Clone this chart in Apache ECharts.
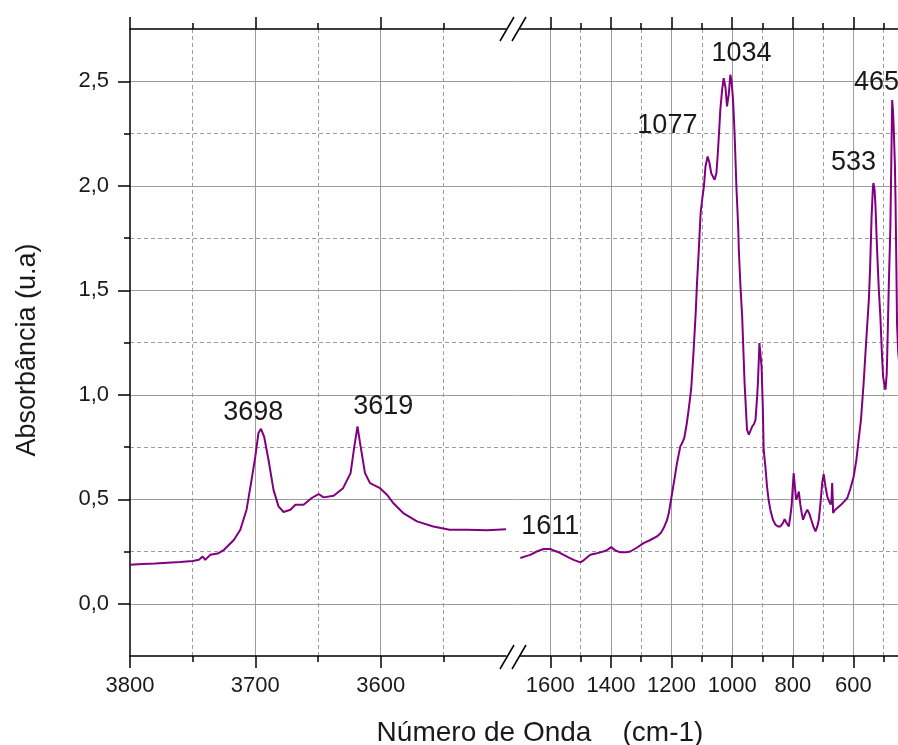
<!DOCTYPE html>
<html>
<head>
<meta charset="utf-8">
<script src="https://cdn.jsdelivr.net/npm/echarts@6/dist/echarts.min.js"></script>
<style>
html, body { margin: 0; padding: 0; background: #fff; }
#main { width: 898px; height: 745px; }
</style>
</head>
<body>
<div id="main"></div>
<script>
// high wavenumber part (left of the break)
var highWavenumber = [3800, 3790, 3780, 3770, 3760, 3750, 3745, 3742, 3740, 3736, 3730, 3725, 3717, 3712, 3707, 3703, 3700, 3697.5, 3695.5, 3693, 3689.5, 3685.5, 3681.5, 3677.5, 3672, 3668, 3661.5, 3655, 3649.5, 3645.5, 3637.5, 3630, 3624, 3621, 3618.5, 3616, 3612.5, 3608.5, 3600.5, 3595, 3590, 3582, 3571, 3558, 3545, 3531, 3515, 3500];
var highAbsorbance = [0.187, 0.19, 0.192, 0.196, 0.2, 0.205, 0.21, 0.226, 0.21, 0.234, 0.24, 0.258, 0.306, 0.354, 0.45, 0.593, 0.705, 0.817, 0.837, 0.8, 0.689, 0.545, 0.466, 0.439, 0.45, 0.474, 0.474, 0.506, 0.525, 0.509, 0.517, 0.553, 0.625, 0.753, 0.848, 0.753, 0.625, 0.577, 0.553, 0.522, 0.482, 0.434, 0.394, 0.37, 0.354, 0.354, 0.352, 0.357];

// low wavenumber part (right of the break)
var lowWavenumber = [1699, 1680, 1666, 1645, 1622, 1600, 1589, 1570, 1556, 1540, 1523, 1510, 1501, 1490, 1468, 1450, 1435, 1415, 1399, 1385, 1369, 1350, 1336, 1315, 1292, 1270, 1248, 1235, 1226, 1215, 1209, 1198, 1190, 1182, 1171, 1165, 1158, 1150, 1143, 1135, 1127, 1120, 1116, 1110, 1104, 1099, 1093, 1088, 1081, 1075, 1069, 1058, 1052, 1048, 1043, 1039, 1033, 1028, 1022, 1017, 1011, 1006, 1002, 997, 992, 986, 980, 978, 973, 967, 959, 951, 945, 939, 934, 928, 923, 918, 915, 912, 910, 907, 903, 899, 896, 890, 885, 880, 874, 865, 857, 849, 841, 833, 827, 820, 813, 808, 804, 800, 797, 793, 789, 785, 780, 775, 770, 766, 759, 752, 745, 739, 732, 725, 719, 714, 708, 703, 698, 692, 686, 680, 675, 672, 670, 668, 667, 660, 653, 640, 630, 620, 610, 599, 590, 583, 575, 566, 558, 549, 545, 540, 536, 534, 530, 527, 522, 516, 511, 506, 502, 497, 494, 490, 488, 483, 478, 475, 472, 469, 467, 463, 461, 458, 456, 452, 445, 430, 400];
var lowAbsorbance = [0.219, 0.228, 0.234, 0.25, 0.262, 0.262, 0.255, 0.245, 0.234, 0.222, 0.21, 0.203, 0.198, 0.208, 0.234, 0.24, 0.246, 0.255, 0.271, 0.255, 0.246, 0.246, 0.25, 0.268, 0.29, 0.305, 0.322, 0.34, 0.362, 0.4, 0.434, 0.53, 0.6, 0.673, 0.753, 0.769, 0.793, 0.86, 0.935, 1.03, 1.215, 1.4, 1.534, 1.694, 1.87, 1.933, 2.0, 2.092, 2.14, 2.11, 2.06, 2.029, 2.06, 2.14, 2.26, 2.364, 2.46, 2.515, 2.47, 2.38, 2.44, 2.531, 2.5, 2.41, 2.25, 1.997, 1.8, 1.694, 1.53, 1.375, 1.056, 0.833, 0.809, 0.83, 0.848, 0.86, 0.88, 0.98, 1.056, 1.17, 1.247, 1.2, 1.135, 0.95, 0.737, 0.65, 0.561, 0.5, 0.45, 0.4, 0.378, 0.37, 0.37, 0.385, 0.405, 0.385, 0.37, 0.42, 0.466, 0.56, 0.625, 0.56, 0.498, 0.51, 0.537, 0.474, 0.43, 0.402, 0.43, 0.45, 0.43, 0.402, 0.37, 0.346, 0.37, 0.402, 0.49, 0.577, 0.62, 0.56, 0.513, 0.49, 0.474, 0.5, 0.577, 0.5, 0.434, 0.45, 0.458, 0.475, 0.49, 0.506, 0.55, 0.609, 0.69, 0.78, 0.88, 1.06, 1.25, 1.454, 1.6, 1.85, 1.98, 2.013, 1.98, 1.9, 1.7, 1.5, 1.375, 1.2, 1.088, 1.04, 1.024, 1.1, 1.215, 1.534, 1.8, 2.1, 2.41, 2.35, 2.28, 2.1, 1.933, 1.6, 1.34, 1.2, 1.1, 0.95, 0.8];

var yTicks = [0, 0.5, 1, 1.5, 2, 2.5];
var highTicks = [3800, 3700, 3600];
var lowTicks = [1600, 1400, 1200, 1000, 800, 600, 400];
var lowLabels = [1600, 1400, 1200, 1000, 800, 600];

// peak notes: text, wavenumber, absorbance of the text centre
var highNotes = [['3698', 3701.6, 0.914], ['3619', 3598, 0.943]];
var lowNotes = [['1611', 1600, 0.368], ['1077', 1213.7, 2.287], ['1034', 969.4, 2.632], ['533', 599.6, 2.11], ['465', 523.7, 2.493]];

var font = '"Liberation Sans", Arial, sans-serif';
var purple = '#800080';
var gridColor = '#9c9c9c';
var axisStyle = { color: '#000', width: 1.5 };

function zip(xs, ys) {
    return xs.map(function (x, i) { return [x, ys[i]]; });
}

function notes(list) {
    return {
        symbol: 'circle',
        symbolSize: 1,
        itemStyle: { color: 'rgba(0,0,0,0)' },
        label: { show: true, position: 'inside', formatter: '{b}', fontSize: 27, color: '#1a1a1a', fontFamily: font },
        data: list.map(function (p) { return { name: p[0], coord: [p[1], p[2]] }; })
    };
}

function xAxisOf(grid, pos, min, max, interval, ticks, labels, edgeLine) {
    var bottom = pos === 'bottom';
    var split = { show: bottom, lineStyle: { color: gridColor, width: 1 } };
    split[edgeLine] = false;
    return {
        type: 'value',
        gridIndex: grid,
        position: pos,
        inverse: true,
        min: min,
        max: max,
        interval: interval,
        axisLine: { onZero: false, lineStyle: axisStyle },
        axisTick: { length: 12, customValues: ticks, lineStyle: axisStyle },
        minorTick: { show: true, splitNumber: 2, length: 6, lineStyle: axisStyle },
        axisLabel: {
            show: bottom,
            customValues: labels,
            margin: 19,
            fontSize: 22,
            color: '#1a1a1a',
            fontFamily: font,
            formatter: function (v) { return String(v); }
        },
        splitLine: split,
        minorSplitLine: { show: bottom, lineStyle: { color: gridColor, width: 1, type: [4, 3] } }
    };
}

var dom = document.getElementById('main');
var myChart = echarts.init(dom);

var option = {
    animation: false,
    backgroundColor: '#fff',
    grid: [
        { left: 130, top: 29, width: 376, height: 627, outerBoundsMode: 'none' },
        { left: 520, top: 29, width: 394, height: 627, outerBoundsMode: 'none' },
        { left: 130, top: 29, width: 784, height: 627, outerBoundsMode: 'none' }
    ],
    xAxis: [
        xAxisOf(0, 'bottom', 3500, 3800, 100, highTicks, highTicks, 'showMinLine'),
        xAxisOf(0, 'top', 3500, 3800, 100, highTicks, highTicks, 'showMinLine'),
        xAxisOf(1, 'bottom', 400, 1700, 200, lowTicks, lowLabels, 'showMaxLine'),
        xAxisOf(1, 'top', 400, 1700, 200, lowTicks, lowLabels, 'showMaxLine'),
        { type: 'value', gridIndex: 2, show: false, min: 0, max: 1 }
    ],
    yAxis: [
        {
            type: 'value',
            gridIndex: 0,
            min: -0.25,
            max: 2.75,
            splitNumber: 6,
            axisLine: { onZero: false, lineStyle: axisStyle },
            axisTick: { length: 12, customValues: yTicks, lineStyle: axisStyle },
            minorTick: { show: true, splitNumber: 2, length: 6, lineStyle: axisStyle },
            axisLabel: {
                customValues: yTicks,
                margin: 21,
                fontSize: 22,
                color: '#1a1a1a',
                fontFamily: font,
                formatter: function (v) { return v.toFixed(1).replace('.', ','); }
            },
            splitLine: { show: false }
        },
        { type: 'value', gridIndex: 1, show: false, min: -0.25, max: 2.75 },
        {
            type: 'value',
            gridIndex: 2,
            min: -0.25,
            max: 2.75,
            splitNumber: 6,
            axisLine: { show: false },
            axisTick: { show: false },
            axisLabel: { show: false },
            splitLine: { show: true, showMinLine: false, showMaxLine: false, lineStyle: { color: gridColor, width: 1 } },
            minorTick: { splitNumber: 2 },
            minorSplitLine: { show: true, lineStyle: { color: gridColor, width: 1, type: [4, 3] } }
        }
    ],
    series: [
        {
            type: 'line',
            xAxisIndex: 0,
            yAxisIndex: 0,
            data: zip(highWavenumber, highAbsorbance),
            showSymbol: false,
            lineStyle: { color: purple, width: 2 },
            itemStyle: { color: purple },
            markPoint: notes(highNotes)
        },
        {
            type: 'line',
            xAxisIndex: 2,
            yAxisIndex: 1,
            data: zip(lowWavenumber, lowAbsorbance),
            showSymbol: false,
            lineStyle: { color: purple, width: 2 },
            itemStyle: { color: purple },
            markPoint: notes(lowNotes)
        }
    ],
    graphic: [
        { type: 'line', shape: { x1: 500, y1: 669, x2: 514, y2: 645 }, style: { stroke: '#000', lineWidth: 1.5 } },
        { type: 'line', shape: { x1: 512, y1: 669, x2: 526, y2: 645 }, style: { stroke: '#000', lineWidth: 1.5 } },
        { type: 'line', shape: { x1: 500, y1: 41, x2: 514, y2: 17 }, style: { stroke: '#000', lineWidth: 1.5 } },
        { type: 'line', shape: { x1: 512, y1: 41, x2: 526, y2: 17 }, style: { stroke: '#000', lineWidth: 1.5 } },
        {
            type: 'text', x: 540, y: 733,
            style: { text: 'Número de Onda    (cm-1)', fontSize: 28, fontFamily: font, fill: '#1a1a1a', align: 'center', verticalAlign: 'middle' }
        },
        {
            type: 'text', x: 28, y: 350, rotation: Math.PI / 2,
            style: { text: 'Absorbância (u.a)', fontSize: 27, fontFamily: font, fill: '#1a1a1a', align: 'center', verticalAlign: 'middle' }
        }
    ]
};

if (option && typeof option === 'object') {
    myChart.setOption(option, true);
}
</script>
</body>
</html>
